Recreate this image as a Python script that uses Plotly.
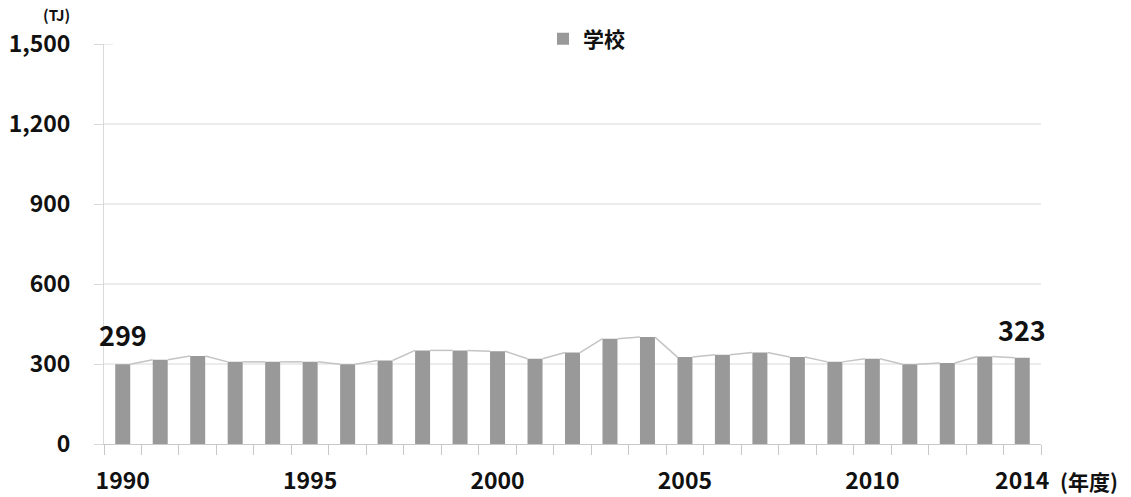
import plotly.graph_objects as go

# Annual energy consumption of schools (TJ), fiscal years 1990-2014
years = list(range(1990, 2015))
values = [299, 316, 330, 308, 308, 308, 299, 313, 351, 351, 348, 320, 343,
          395, 401, 326, 335, 343, 326, 308, 320, 299, 304, 328, 323]
series_name = "学校"
y_ticks = [0, 300, 600, 900, 1200, 1500]
x_label_years = [1990, 1995, 2000, 2005, 2010, 2014]

FONT = "Noto Sans CJK JP, Noto Sans, sans-serif"
TEXT_COLOR = "#111111"
BAR_COLOR = "#999999"
GRID_COLOR = "#d9d9d9"
AXIS_COLOR = "#c8c8c8"
BAR_WIDTH = 0.4

fig = go.Figure()

fig.add_trace(go.Bar(
    x=years, y=values, name=series_name,
    marker=dict(color=BAR_COLOR, line=dict(width=0)),
    width=BAR_WIDTH,
))

# Series lines joining the top corners of neighbouring bars
sx, sy = [], []
half = BAR_WIDTH / 2
for i in range(len(years) - 1):
    sx += [years[i] + half, years[i + 1] - half, None]
    sy += [values[i], values[i + 1], None]
fig.add_trace(go.Scatter(
    x=sx, y=sy, mode="lines", showlegend=False, hoverinfo="skip",
    line=dict(color="#c4c4c4", width=1.5),
))

# Horizontal gridlines (none at the top tick)
shapes = []
for v in y_ticks[1:-1]:
    shapes.append(dict(type="line", xref="paper", yref="y", x0=0, x1=1,
                       y0=v, y1=v, layer="below",
                       line=dict(color=GRID_COLOR, width=1)))
# inner half of the cross tick at the top of the value axis
shapes.append(dict(type="line", xref="paper", yref="y", x0=0, x1=9 / 937,
                   y0=y_ticks[-1], y1=y_ticks[-1],
                   line=dict(color=GRID_COLOR, width=1)))

value_font = dict(family=FONT, size=27, color=TEXT_COLOR, weight="bold")
annotations = [
    dict(x=years[0], y=values[0], text=str(values[0]), showarrow=False,
         yanchor="bottom", yshift=8, font=value_font),
    dict(x=years[-1], y=values[-1], text=str(values[-1]), showarrow=False,
         yanchor="bottom", yshift=7, font=value_font),
    dict(xref="paper", yref="paper", x=(72 - 104) / 937, y=1.0, yshift=17,
         text="(TJ)", showarrow=False, xanchor="right", yanchor="bottom",
         font=dict(family=FONT, size=15, color=TEXT_COLOR, weight="bold")),
    dict(xref="paper", yref="paper", x=1.0, y=0, xshift=17, yshift=-37,
         text="(年度)", showarrow=False, xanchor="left", yanchor="middle",
         font=dict(family=FONT, size=21, color=TEXT_COLOR, weight="bold")),
]

fig.update_layout(
    width=1131, height=497,
    margin=dict(l=104, r=90, t=44, b=53, autoexpand=False),
    paper_bgcolor="white", plot_bgcolor="white",
    bargap=0.6,
    shapes=shapes,
    annotations=annotations,
    showlegend=True,
    legend=dict(orientation="h", x=(543 - 104) / 937, xanchor="left",
                y=1.0125, yanchor="middle",
                font=dict(family=FONT, size=21, color=TEXT_COLOR, weight="bold"),
                bgcolor="rgba(0,0,0,0)"),
    font=dict(family=FONT, color=TEXT_COLOR),
)

tick_font = dict(family=FONT, size=23, color=TEXT_COLOR, weight="bold")

fig.update_xaxes(
    type="linear", range=[years[0] - 0.5, years[-1] + 0.5],
    automargin=False,
    tickmode="array", tickvals=x_label_years,
    ticktext=[str(y) for y in x_label_years],
    ticks="", ticklabelstandoff=16,
    tickfont=tick_font,
    showgrid=False, zeroline=False,
    showline=True, linecolor=AXIS_COLOR, linewidth=1,
    minor=dict(tickmode="array",
               tickvals=[y - 0.5 for y in years] + [years[-1] + 0.5],
               ticks="outside", ticklen=10, tickcolor=AXIS_COLOR,
               showgrid=False),
)

fig.update_yaxes(
    range=[0, 1500], automargin=False,
    tickmode="array", tickvals=y_ticks, tickformat=",",
    ticks="outside", ticklen=9, tickcolor=GRID_COLOR,
    ticklabelstandoff=19,
    tickfont=tick_font,
    showgrid=False, zeroline=False,
    showline=True, linecolor=GRID_COLOR, linewidth=1,
)

fig.write_html("out.html")
